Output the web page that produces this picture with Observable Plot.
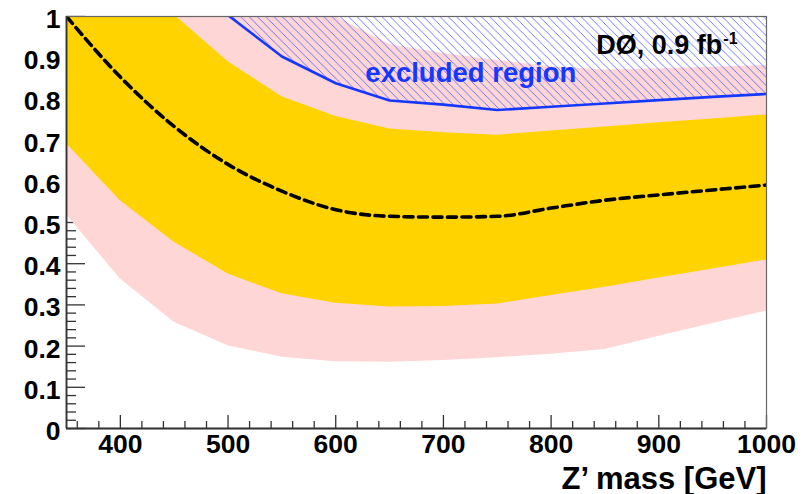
<!DOCTYPE html>
<html><head><meta charset="utf-8">
<script src="https://cdn.jsdelivr.net/npm/d3@7"></script>
<script src="https://cdn.jsdelivr.net/npm/@observablehq/plot@0.6"></script>
<style>html,body{margin:0;padding:0;background:#fff;} #chart{width:810px;height:494px;overflow:hidden;}</style>
</head><body><div id="chart"></div>
<script>
// Z' mass points [GeV]
const masses = [350,400,450,500,550,600,650,700,750,800,850,900,950,1000];
// expected limit (dashed)
const expectedLimit = [1.0,0.853,0.733,0.641,0.576,0.531,0.515,0.513,0.515,0.535,0.554,0.567,0.579,0.591];
// +-1 sigma band (yellow)
const band1Low  = [0.691,0.553,0.452,0.375,0.327,0.304,0.295,0.296,0.302,0.323,0.343,0.365,0.387,0.409];
const band1High = [1.35,1.15,1.004,0.890,0.805,0.757,0.727,0.718,0.712,0.722,0.732,0.742,0.751,0.761];
// +-2 sigma band (pink)
const band2Low  = [0.519,0.363,0.258,0.201,0.173,0.162,0.161,0.165,0.172,0.180,0.192,0.224,0.255,0.285];
const band2High = [1.6,1.4,1.25,1.14,1.07,1.0,0.932,0.91,0.893,0.878,0.870,0.873,0.877,0.881];
// observed limit (blue, hatched above)
const obsMasses = [500,550,600,650,700,750,800,850,900,950,1000];
const observedLimit = [1.003,0.903,0.838,0.796,0.786,0.773,0.781,0.789,0.797,0.805,0.812];

// axes
const xDomain = [350, 1000];
const yDomain = [0, 1];
const xMajorTicks = [400,500,600,700,800,900,1000];
const xTickLabels = ["400","500","600","700","800","900","1000"];
const yMajorTicks = [0,0.1,0.2,0.3,0.4,0.5,0.6,0.7,0.8,0.9,1];
const yTickLabels = ["0","0.1","0.2","0.3","0.4","0.5","0.6","0.7","0.8","0.9","1"];
const xTitle = "Z\u2019 mass [GeV]";

// annotations
const noteLabels = ["D\u00D8, 0.9 fb", "-1", "excluded region"];
const noteX = [959, 959, 627.5];
const noteY = [0.908, 0.933, 0.841];

const xMinorTicks = d3.range(360, 1001, 20).filter(v => v % 100 !== 0);
const yMinorTicks = d3.range(1, 50).filter(k => k % 5 !== 0).map(k => k / 50);

const bands = masses.map((m, i) => ({m, lo1: band1Low[i], hi1: band1High[i], lo2: band2Low[i], hi2: band2High[i], exp: expectedLimit[i]}));
const obs = obsMasses.map((m, i) => ({m, v: observedLimit[i]}));
const notes = noteLabels.map((t, i) => ({t, x: noteX[i], y: noteY[i]}));

const YELLOW = "#ffd300", PINK = "#ffd6d6", BLUE = "#1438ff";
const FONT = "'Liberation Sans', Arial, Helvetica, sans-serif";

function hatchDefs() {
  const ns = "http://www.w3.org/2000/svg";
  const s = 8.3;
  const defs = document.createElementNS(ns, "defs");
  const pat = document.createElementNS(ns, "pattern");
  pat.setAttribute("id", "hatch");
  pat.setAttribute("patternUnits", "userSpaceOnUse");
  pat.setAttribute("width", s);
  pat.setAttribute("height", s);
  const path = document.createElementNS(ns, "path");
  path.setAttribute("d", `M0,0L${s},${s}M-1,${s-1}L1,${s+1}M${s-1},-1L${s+1},1`);
  path.setAttribute("stroke", "#4a5aff");
  path.setAttribute("stroke-width", "0.8");
  path.setAttribute("fill", "none");
  pat.appendChild(path);
  defs.appendChild(pat);
  return defs;
}

const chart = Plot.plot({
  width: 810, height: 494,
  marginLeft: 66, marginRight: 44, marginTop: 16, marginBottom: 66,
  x: {domain: xDomain},
  y: {domain: yDomain},
  style: {fontFamily: FONT, fontWeight: "bold", background: "white", color: "black", overflow: "visible"},
  marks: [
    hatchDefs,
    // inward ticks (drawn first, bands cover them)
    Plot.axisY(yMinorTicks, {anchor: "left", tickSize: 10, insetLeft: 10, fill: "none", stroke: "#333", strokeWidth: 1.3, label: null}),
    Plot.axisY(yMajorTicks, {anchor: "left", tickSize: 19, insetLeft: 19, fill: "none", stroke: "#333", strokeWidth: 1.3, label: null}),
    Plot.axisX(xMinorTicks, {anchor: "bottom", tickSize: 7, insetBottom: 7, fill: "none", stroke: "#333", strokeWidth: 1.3, label: null}),
    Plot.axisX(xMajorTicks, {anchor: "bottom", tickSize: 13, insetBottom: 13, fill: "none", stroke: "#333", strokeWidth: 1.3, label: null}),
    // bands
    Plot.areaY(bands, {x: "m", y1: "lo2", y2: "hi2", fill: PINK, clip: true}),
    Plot.areaY(bands, {x: "m", y1: "lo1", y2: "hi1", fill: YELLOW, clip: true}),
    Plot.line(bands, {x: "m", y: "exp", curve: "monotone-x", stroke: "black", strokeWidth: 3.6, strokeDasharray: "9,5.5", clip: true}),
    // excluded region hatch
    Plot.areaY(obs, {x: "m", y1: "v", y2: () => yDomain[1], fill: "url(#hatch)", clip: true}),
    Plot.line(obs, {x: "m", y: "v", stroke: BLUE, strokeWidth: 2.6, clip: true}),
    // frame and axis lines
    Plot.frame({stroke: "#666", strokeWidth: 1.2}),
    Plot.ruleX([xDomain[0]], {stroke: "#333", strokeWidth: 1.8}),
    Plot.ruleY([yDomain[0]], {stroke: "#333", strokeWidth: 1.8}),
    // tick labels
    Plot.axisY(yMajorTicks, {anchor: "left", tickSize: 0, tickPadding: 6, stroke: "none", fill: "black", dy: 3,
      tickFormat: d => yTickLabels[yMajorTicks.indexOf(d)], fontSize: 26.5, fontWeight: "bold", label: null}),
    Plot.axisX(xMajorTicks, {anchor: "bottom", tickSize: 0, tickPadding: 6, stroke: "none", fill: "black",
      tickFormat: d => xTickLabels[xMajorTicks.indexOf(d)], fontSize: 26.5, fontWeight: "bold", label: null}),
    Plot.text([xTitle], {frameAnchor: "bottom-right", dy: 60, textAnchor: "end", lineAnchor: "bottom", fontSize: 31, fontWeight: "bold", fill: "black"}),
    // annotations
    Plot.text([notes[0]], {x: "x", y: "y", text: "t", textAnchor: "end", lineAnchor: "bottom", fontSize: 27, fontWeight: "bold", fill: "black"}),
    Plot.text([notes[1]], {x: "x", y: "y", text: "t", textAnchor: "start", lineAnchor: "bottom", dx: 1, fontSize: 16, fontWeight: "bold", fill: "black"}),
    Plot.text([notes[2]], {x: "x", y: "y", text: "t", textAnchor: "start", lineAnchor: "bottom", fontSize: 27.5, fontWeight: "bold", fill: BLUE})
  ]
});
document.getElementById("chart").appendChild(chart);
</script>
</body></html>
